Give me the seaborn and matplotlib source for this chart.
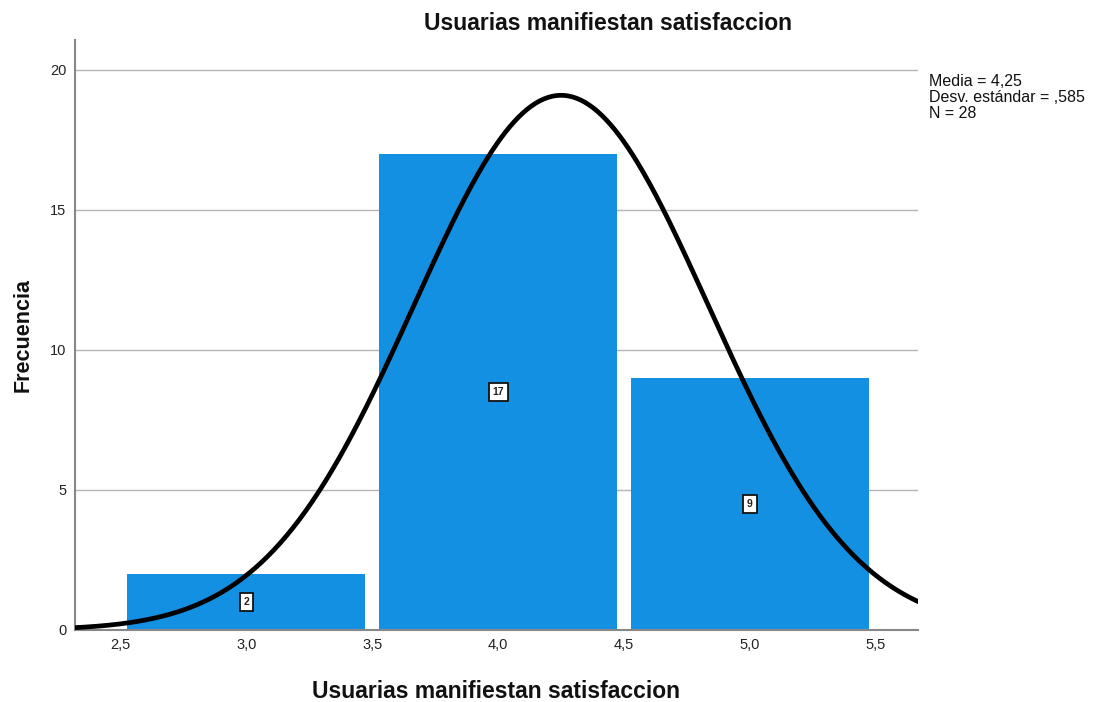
"""Histogram with normal curve, SPSS style."""

import numpy as np
import pandas as pd
import seaborn as sns
import matplotlib.pyplot as plt

# Data
bin_left = [2.5, 3.5, 4.5]
counts = [2, 17, 9]
mean_val = 4.25
std_val = 0.585
n_total = 28
x_ticks = [2.5, 3.0, 3.5, 4.0, 4.5, 5.0, 5.5]
x_tick_labels = ["2,5", "3,0", "3,5", "4,0", "4,5", "5,0", "5,5"]
y_ticks = [0, 5, 10, 15, 20]

title = "Usuarias manifiestan satisfaccion"

sns.set_theme(style="white")
plt.rcParams['font.family'] = ['Liberation Sans', 'DejaVu Sans']

bin_w = 1.0
bar_color = "#1490E3"

df = pd.DataFrame({"centro": [b + bin_w / 2 for b in bin_left], "n": counts})

fig = plt.figure(figsize=(10.99, 7.02), dpi=100)
ax = fig.add_axes([0.0682, 0.1026, 0.7671, 0.8404])

ax.bar(df["centro"], df["n"], width=bin_w * 0.945, color=bar_color,
       edgecolor="none", zorder=2)

# Normal curve scaled to counts
xs = np.linspace(2.3, 5.7, 400)
ys = n_total * bin_w / (std_val * np.sqrt(2 * np.pi)) * np.exp(-0.5 * ((xs - mean_val) / std_val) ** 2)
sns.lineplot(x=xs, y=ys, ax=ax, color="black", linewidth=3.4, zorder=4)

# Count labels in small boxes
for c, n in zip(df["centro"], df["n"]):
    ax.text(c, n / 2, str(n), ha="center", va="center", fontsize=7.5,
            fontweight="bold", color="#222222", zorder=5,
            bbox=dict(boxstyle="square,pad=0.35", fc="white", ec="#111111", lw=1.3))

ax.set_xlim(2.32, 5.667)
ax.set_ylim(0, 21.07)
ax.set_xticks(x_ticks)
ax.set_xticklabels(x_tick_labels)
ax.set_yticks(y_ticks)
ax.yaxis.grid(True, color="#b4b4b4", linewidth=1)
ax.set_axisbelow(True)
ax.tick_params(axis="both", length=0, labelsize=10.5, colors="#222222", pad=6)

for s in ["top", "right"]:
    ax.spines[s].set_visible(False)
for s in ["left", "bottom"]:
    ax.spines[s].set_color("#888888")
    ax.spines[s].set_linewidth(1.5)

fig.text(608 / 1099, 1 - 23 / 702, title, fontsize=16.5, fontweight="bold",
         ha="center", va="center", color="#111111")
ax.set_xlabel(title, fontsize=16.5, fontweight="bold", labelpad=20, color="#111111")
ax.set_ylabel("Frecuencia", fontsize=15.5, fontweight="bold", labelpad=12, color="#111111")

fig.text(0.845, 0.894, "Media = 4,25\nDesv. estándar = ,585\nN = 28",
         fontsize=11.5, va="top", ha="left", linespacing=1.05, color="#111111")

fig.savefig("out.png", dpi=100)
